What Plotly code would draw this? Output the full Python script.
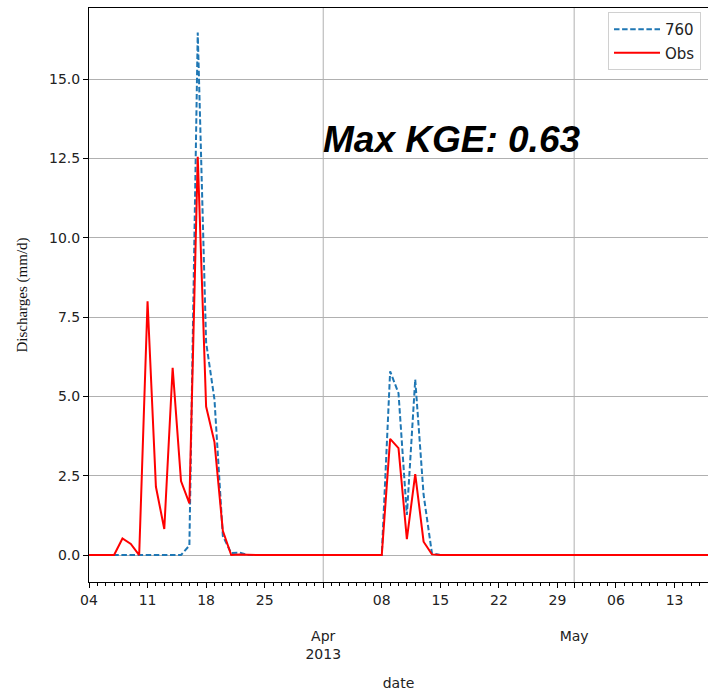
import plotly.graph_objects as go
import pandas as pd

start_date = "2013-03-04"
n_days = 75
sim_760 = [0, 0, 0, 0, 0, 0, 0, 0, 0, 0, 0, 0, 0.3, 16.47, 6.7, 4.9, 0.6, 0.06, 0.08, 0,
           0, 0, 0, 0, 0, 0, 0, 0, 0, 0, 0, 0, 0, 0, 0, 0, 5.79, 5.1, 1.26, 5.53,
           1.9, 0.05, 0, 0, 0, 0, 0, 0, 0, 0, 0, 0, 0, 0, 0, 0, 0, 0.02, 0, 0,
           0, 0, 0, 0, 0, 0, 0, 0, 0, 0, 0, 0, 0, 0, 0]
obs = [0, 0, 0, 0, 0.52, 0.35, 0, 8.0, 2.15, 0.82, 5.9, 2.33, 1.63, 12.55, 4.68, 3.56, 0.76, 0, 0.02, 0,
       0, 0, 0, 0, 0, 0, 0, 0, 0, 0, 0, 0, 0, 0, 0, 0, 3.66, 3.37, 0.5, 2.55,
       0.42, 0.02, 0, 0, 0, 0, 0, 0, 0, 0, 0, 0, 0, 0, 0, 0, 0, 0.02, 0, 0,
       0, 0, 0, 0, 0, 0, 0, 0, 0, 0, 0, 0, 0, 0, 0]

tick_dates = ["2013-03-04", "2013-03-11", "2013-03-18", "2013-03-25", "2013-04-01",
              "2013-04-08", "2013-04-15", "2013-04-22", "2013-04-29", "2013-05-01",
              "2013-05-06", "2013-05-13"]
tick_labels = ["04", "11", "18", "25", " <br> <br>Apr<br>2013", "08", "15", "22", "29",
               " <br> <br>May", "06", "13"]
month_starts = ["2013-04-01", "2013-05-01"]
x_range = ["2013-03-04", "2013-05-17"]
y_range = [-0.85, 17.24]
kge_text = "Max KGE: 0.63"
kge_pos = ("2013-04-16 07:00", 13.1)

dates = pd.date_range(start_date, periods=n_days, freq="D")

fig = go.Figure()
fig.add_trace(go.Scatter(x=dates, y=sim_760, mode="lines", name="760", legendgroup="a",
                         line=dict(color="#1f77b4", width=2, dash="5.5px,2.6px")))
fig.add_trace(go.Scatter(x=dates, y=obs, mode="lines", name="Obs", legendgroup="b",
                         line=dict(color="#ff0000", width=2)))

for m in month_starts:
    fig.add_shape(type="line", xref="x", yref="paper", x0=m, x1=m, y0=0, y1=1,
                  line=dict(color="#b0b0b0", width=1), layer="below")

fig.add_annotation(x=kge_pos[0], y=kge_pos[1], text=kge_text, showarrow=False,
                   xanchor="center", yanchor="middle",
                   font=dict(family="Liberation Sans", size=37, color="black",
                             weight="bold", style="italic"))

fig.update_layout(
    width=708, height=691,
    margin=dict(l=89, r=0, t=8, b=109),
    paper_bgcolor="white", plot_bgcolor="white",
    font=dict(family="DejaVu Sans", size=14, color="#222"),
    showlegend=True,
    legend=dict(x=0.9887, y=0.993, xanchor="right", yanchor="top",
                bgcolor="white", bordercolor="#d0d0d0", borderwidth=1,
                itemwidth=46, tracegroupgap=1,
                font=dict(family="DejaVu Sans", size=15, color="#222")),
    xaxis=dict(
        range=x_range, type="date", automargin=False, tickangle=0,
        tickmode="array", tickvals=tick_dates, ticktext=tick_labels,
        ticks="outside", ticklen=5, tickcolor="black",
        showline=True, linecolor="black", linewidth=1, mirror=True,
        showgrid=False, zeroline=False,
        minor=dict(dtick=86400000, ticks="outside", ticklen=3, tickcolor="black", showgrid=False),
        title=dict(text="date", font=dict(family="DejaVu Sans", size=14, color="#222"), standoff=16),
        tickfont=dict(family="DejaVu Sans", size=14, color="#222"),
    ),
    yaxis=dict(
        range=y_range, tickmode="linear", tick0=0, dtick=2.5, tickformat=".1f",
        automargin=False,
        ticks="outside", ticklen=5, tickcolor="black",
        showline=True, linecolor="black", linewidth=1, mirror=False,
        showgrid=True, gridcolor="#b0b0b0", gridwidth=1, zeroline=False,
        title=dict(text="Discharges (mm/d)", font=dict(family="Liberation Serif", size=15, color="#111"), standoff=17),
        tickfont=dict(family="DejaVu Sans", size=14, color="#222"),
    ),
)

fig.write_html(
    "out.html",
    config={"displayModeBar": False},
    post_script="document.body.style.margin='0';"
                "document.documentElement.style.overflow='hidden';"
                "document.body.style.overflow='hidden';",
)
